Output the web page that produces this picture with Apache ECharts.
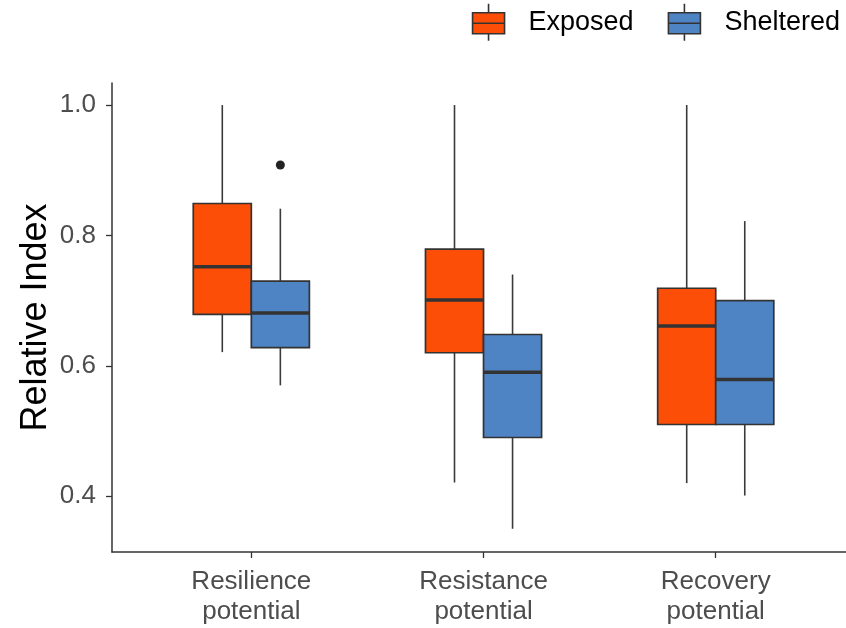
<!DOCTYPE html>
<html>
<head>
<meta charset="utf-8">
<script src="https://cdn.jsdelivr.net/npm/echarts@6/dist/echarts.min.js"></script>
<style>
html,body{margin:0;padding:0;background:#fff;}
#chart{width:846px;height:628px;}
</style>
</head>
<body>
<div id="chart"></div>
<script>
// ---- data ----
const categories = ['Resilience\npotential', 'Resistance\npotential', 'Recovery\npotential'];
const groups = ['Exposed', 'Sheltered'];
// [lower whisker, Q1, median, Q3, upper whisker]
const exposedBoxes = [
  [0.621, 0.679, 0.752, 0.849, 1.000],
  [0.421, 0.620, 0.701, 0.779, 1.000],
  [0.420, 0.510, 0.661, 0.719, 1.000]
];
const shelteredBoxes = [
  [0.570, 0.628, 0.681, 0.730, 0.841],
  [0.350, 0.490, 0.590, 0.648, 0.740],
  [0.401, 0.510, 0.579, 0.700, 0.822]
];
// [category index, value]
const shelteredOutliers = [[0, 0.908]];
const yTicks = [0.4, 0.6, 0.8, 1.0];

// ---- styles ----
const colors = ['#FC4E07', '#4E84C4'];
const ink = '#333333';
const boxWidth = 0.25;
const offsets = [-0.125, 0.125];

function boxData(boxes, off) {
  return boxes.map((b, i) => [i + 1 + off].concat(b));
}

function makeRender(color) {
  return function (params, api) {
    const x = api.value(0);
    const low = api.coord([x, api.value(1)]);
    const q1 = api.coord([x, api.value(2)]);
    const med = api.coord([x, api.value(3)]);
    const q3 = api.coord([x, api.value(4)]);
    const high = api.coord([x, api.value(5)]);
    const w = api.size([boxWidth, 0])[0];
    const lineStyle = { stroke: '#3a3a3a', lineWidth: 1.6 };
    return {
      type: 'group',
      children: [
        { type: 'line', shape: { x1: high[0], y1: high[1], x2: q3[0], y2: q3[1] }, style: lineStyle },
        { type: 'line', shape: { x1: q1[0], y1: q1[1], x2: low[0], y2: low[1] }, style: lineStyle },
        { type: 'rect', shape: { x: q3[0] - w / 2, y: q3[1], width: w, height: q1[1] - q3[1] },
          style: { fill: color, stroke: ink, lineWidth: 1.7 } },
        { type: 'line', shape: { x1: med[0] - w / 2, y1: med[1], x2: med[0] + w / 2, y2: med[1] },
          style: { stroke: ink, lineWidth: 3.5 } }
      ]
    };
  };
}

const legendIcon = 'path://M17,0L17,9M1,9L33,9L33,30L1,30ZM1,19.5L33,19.5M17,30L17,37';
const font = 'Liberation Sans, Arial, Helvetica, sans-serif';

const chart = echarts.init(document.getElementById('chart'), null, { renderer: 'canvas' });
chart.setOption({
  animation: false,
  backgroundColor: '#ffffff',
  textStyle: { fontFamily: font },
  legend: {
    data: groups.map(g => ({ name: g, icon: legendIcon })),
    right: 6,
    top: 3,
    padding: 0,
    itemWidth: 34,
    itemHeight: 37,
    itemGap: 34,
    itemStyle: { borderColor: ink, borderWidth: 1.6 },
    textStyle: { fontSize: 27, color: '#000', fontFamily: font, padding: [0, 0, 0, 18] },
    selectedMode: false
  },
  grid: { left: 112, right: 0, top: 83, bottom: 76, containLabel: false },
  xAxis: {
    type: 'value',
    min: 0.4,
    max: 3.561,
    splitLine: { show: false },
    axisLine: { show: true, lineStyle: { color: ink, width: 1.5 } },
    axisTick: { show: true, customValues: [1, 2, 3], length: 6, lineStyle: { color: ink, width: 1.3 } },
    axisLabel: {
      customValues: [1, 2, 3],
      formatter: v => categories[Math.round(v) - 1],
      fontSize: 26, lineHeight: 30, color: '#4d4d4d', margin: 15, fontFamily: font
    }
  },
  yAxis: {
    type: 'value',
    min: 0.3144,
    max: 1.0338,
    name: 'Relative Index',
    nameLocation: 'middle',
    nameGap: 58,
    nameMoveOverlap: false,
    nameTextStyle: { fontSize: 36, color: '#000', fontFamily: font },
    splitLine: { show: false },
    axisLine: { show: true, lineStyle: { color: ink, width: 1.5 } },
    axisTick: { show: true, customValues: yTicks, length: 6, lineStyle: { color: ink, width: 1.3 } },
    axisLabel: {
      customValues: yTicks,
      formatter: v => v.toFixed(1),
      fontSize: 26, color: '#4d4d4d', margin: 16, fontFamily: font
    }
  },
  series: [
    {
      name: groups[0], type: 'custom', itemStyle: { color: colors[0] },
      renderItem: makeRender(colors[0]),
      encode: { x: 0, y: [1, 2, 3, 4, 5] },
      data: boxData(exposedBoxes, offsets[0])
    },
    {
      name: groups[1], type: 'custom', itemStyle: { color: colors[1] },
      renderItem: makeRender(colors[1]),
      encode: { x: 0, y: [1, 2, 3, 4, 5] },
      data: boxData(shelteredBoxes, offsets[1])
    },
    {
      name: 'outliers', type: 'scatter', symbolSize: 9,
      itemStyle: { color: '#222222', opacity: 1 },
      data: shelteredOutliers.map(o => [o[0] + 1 + offsets[1], o[1]])
    }
  ]
});
</script>
</body>
</html>
